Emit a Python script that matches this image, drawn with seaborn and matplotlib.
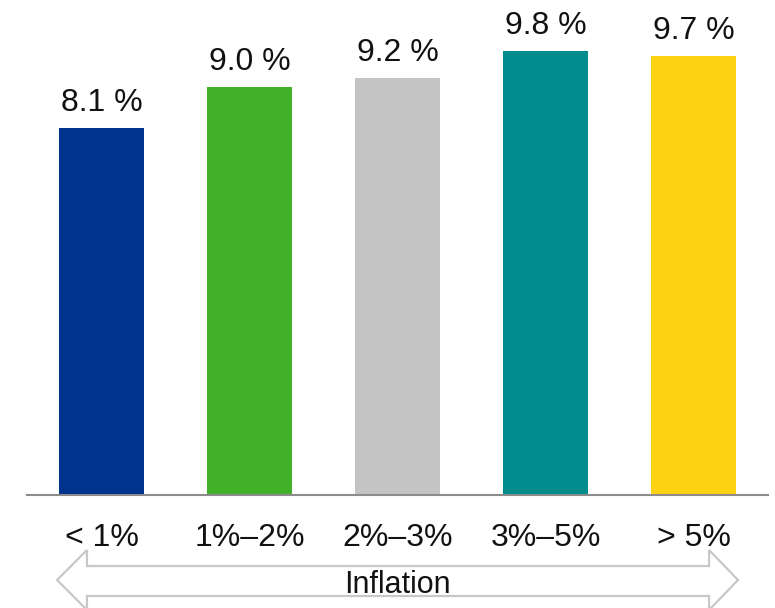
import matplotlib
matplotlib.use("Agg")
import matplotlib.pyplot as plt
import matplotlib.transforms as mtransforms
from matplotlib.patches import Polygon
import seaborn as sns
import pandas as pd

# Inflation bands and the value shown for each band (%)
categories = ["< 1%", "1%\u20132%", "2%\u20133%", "3%\u20135%", "> 5%"]
values = [8.1, 9.0, 9.2, 9.8, 9.7]
colors = ["#00338D", "#43B02A", "#C4C4C4", "#008C8C", "#FDD213"]
axis_label = "Inflation"

sns.set_theme(style="white")
plt.rcParams["font.family"] = ["Liberation Sans", "DejaVu Sans"]

df = pd.DataFrame({"band": categories, "value": values})

fig = plt.figure(figsize=(7.75, 6.08), dpi=100)
W, H = 775, 608
ax = fig.add_axes([27 / W, 113 / H, 741 / W, 475.6 / H])

sns.barplot(data=df, x="band", y="value", hue="band", palette=colors,
            order=categories, hue_order=categories, dodge=False,
            width=0.574, saturation=1, legend=False, linewidth=0, ax=ax)

ax.set_xlim(-0.503, 4.503)
ax.set_ylim(0, 10.5)

# value labels above bars
for i, v in enumerate(values):
    ax.annotate(f"{v:.1f} %", xy=(i, v), xytext=(0, 12.2), textcoords="offset points",
                ha="center", va="baseline", fontsize=23, color="#111111")

for s in ["top", "right", "left"]:
    ax.spines[s].set_visible(False)
ax.spines["bottom"].set_color("#8c8c8c")
ax.spines["bottom"].set_linewidth(1.5)
ax.set_yticks([])
ax.set_xlabel("")
ax.set_ylabel("")
ax.tick_params(axis="x", length=0, pad=20.5, labelsize=23, labelcolor="#111111")

# double-headed outline arrow under the category labels
trans = mtransforms.blended_transform_factory(ax.transData, fig.transFigure)
def fy(px_from_top):
    return 1 - px_from_top / H
xl_tip, xl_base = -0.30, -0.098
xr_base, xr_tip = 4.105, 4.30
shaft_top, shaft_bot, head_top, head_bot, mid = 566, 596, 550, 610, 580
pts = [
    (xl_tip, fy(mid)),
    (xl_base, fy(head_top)),
    (xl_base, fy(shaft_top)),
    (xr_base, fy(shaft_top)),
    (xr_base, fy(head_top)),
    (xr_tip, fy(mid)),
    (xr_base, fy(head_bot)),
    (xr_base, fy(shaft_bot)),
    (xl_base, fy(shaft_bot)),
    (xl_base, fy(head_bot)),
]
arrow = Polygon(pts, closed=True, facecolor="white", edgecolor="#c8c8c8",
                linewidth=1.6, transform=trans, clip_on=False)
fig.add_artist(arrow)
fig.text(ax.transData.transform((2, 0))[0] / W, fy(593), axis_label,
         ha="center", va="baseline", fontsize=22, color="#111111")

fig.savefig("out.png", dpi=100, facecolor="white")
